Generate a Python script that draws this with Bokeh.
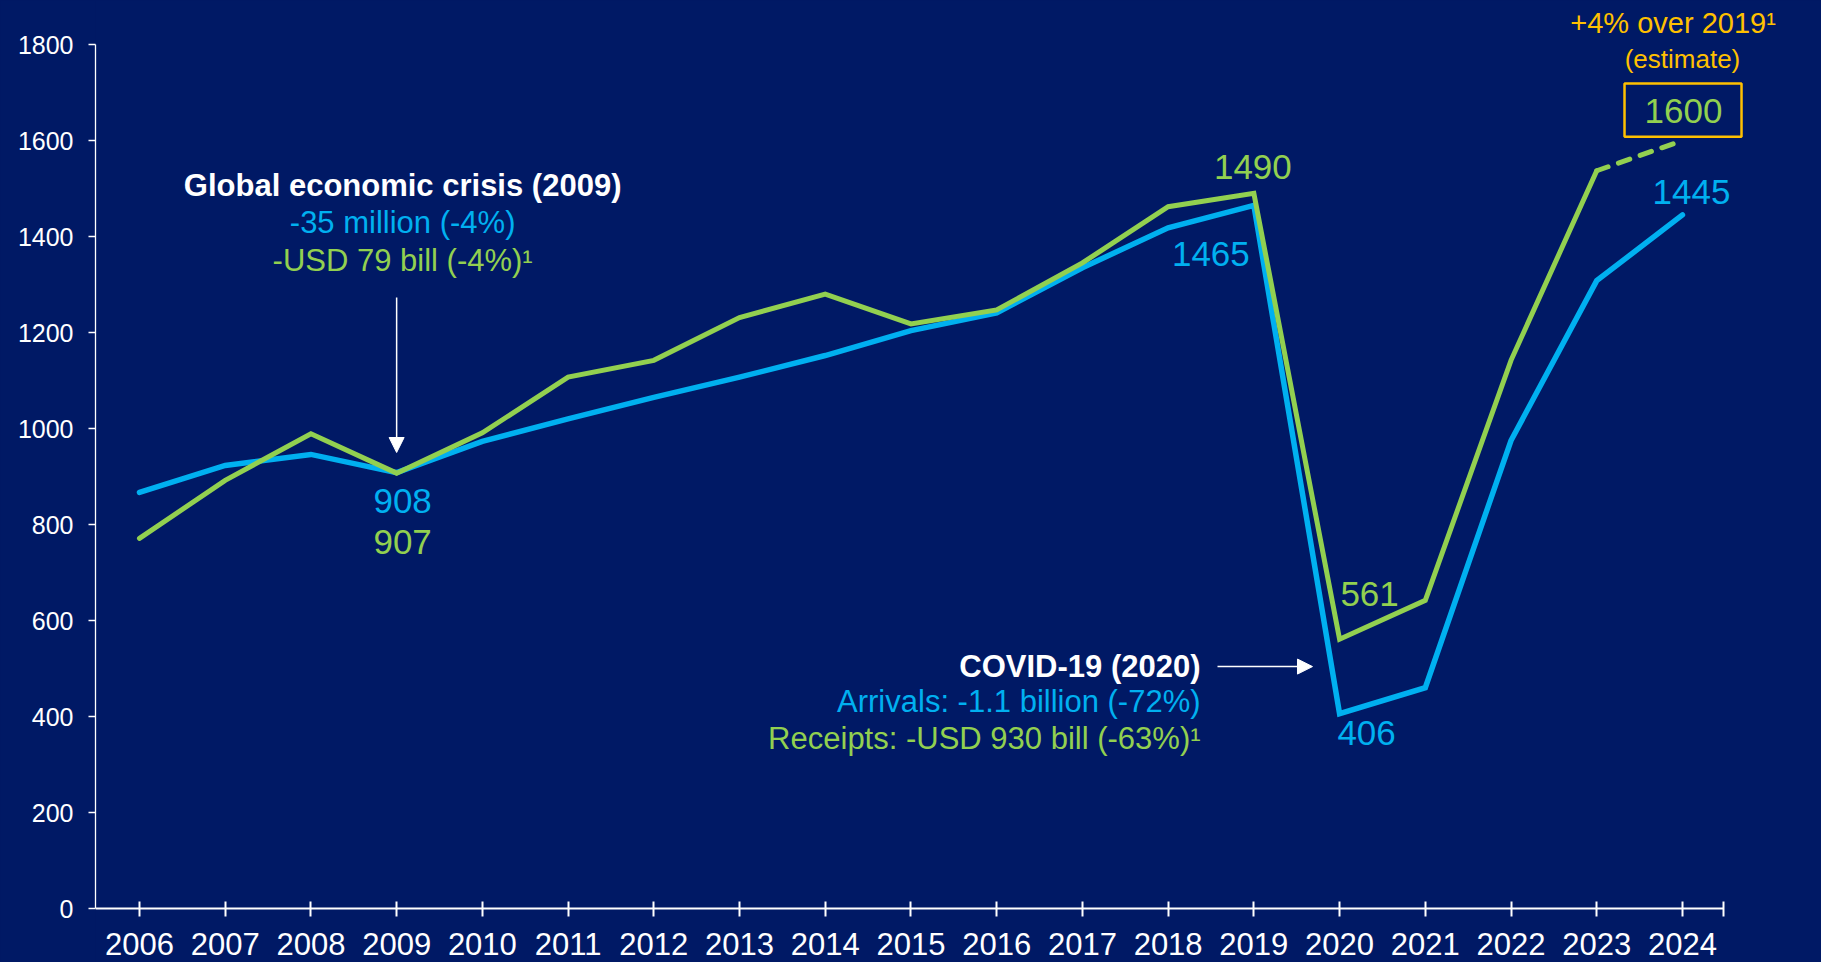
from bokeh.plotting import figure
from bokeh.models import (Range1d, FixedTicker, Label, Arrow, NormalHead,
                          BoxAnnotation, ColumnDataSource)
from bokeh.core.properties import value
from bokeh.embed import file_html
from bokeh.resources import INLINE

# ---------------- data ----------------
years = list(range(2006, 2025))
arrivals = [867, 923, 946, 908, 973, 1020, 1065, 1107, 1152, 1204, 1241,
            1335, 1418, 1465, 406, 460, 975, 1308, 1445]
receipt_years = list(range(2006, 2024))
receipts = [771, 892, 989, 907, 991, 1107, 1142, 1231, 1280, 1218, 1247,
            1345, 1462, 1490, 561, 642, 1142, 1537]
estimate_years = [2023, 2024]
receipts_estimate = [1537, 1600]
y_ticks = [0, 200, 400, 600, 800, 1000, 1200, 1400, 1600, 1800]

# label placement (pixel offsets from the data point), kept apart from data
arrival_label_offsets = {2009: (6, 28), 2019: (-43, 49), 2020: (27, 19), 2024: (9, -23)}
receipt_label_offsets = {2009: (6, 69), 2019: (-1, -26), 2020: (30, -45)}
estimate_label_offset = (1, -30)

BG = "#001965"
BLUE = "#00B0F0"
GREEN = "#92D050"
GOLD = "#FFC000"
FONT = "Liberation Sans"

p = figure(width=1821, height=962,
           x_range=Range1d(2005.487, 2025.622),
           y_range=Range1d(-112.5, 1891.67),
           output_backend="svg", toolbar_location=None,
           min_border_left=95, min_border_right=0,
           min_border_top=0, min_border_bottom=0)
p.background_fill_color = BG
p.border_fill_color = BG
p.outline_line_color = None
p.xgrid.visible = False
p.ygrid.visible = False

# x axis at y = 0
xa = p.xaxis[0]
xa.fixed_location = 0
xa.ticker = FixedTicker(ticks=years, minor_ticks=[2024.48])
xa.bounds = (2005.487, 2024.48)
xa.axis_line_color = "white"
xa.axis_line_width = 2
xa.major_tick_line_color = "white"
xa.major_tick_line_width = 2
xa.major_tick_in = 7
xa.major_tick_out = 8
xa.minor_tick_line_color = "white"
xa.minor_tick_line_width = 2
xa.minor_tick_in = 7
xa.minor_tick_out = 8
xa.major_label_text_color = "white"
xa.major_label_text_font = FONT
xa.major_label_text_font_size = "31px"
xa.major_label_standoff = 16

ya = p.yaxis[0]
ya.ticker = FixedTicker(ticks=y_ticks, minor_ticks=[])
ya.bounds = (0, 1800)
ya.axis_line_color = "white"
ya.axis_line_width = 1.3
ya.major_tick_line_color = "white"
ya.major_tick_line_width = 1.3
ya.major_tick_in = 0
ya.major_tick_out = 7
ya.minor_tick_line_color = None
ya.major_label_text_color = "white"
ya.major_label_text_font = FONT
ya.major_label_text_font_size = "25px"
ya.major_label_standoff = 15

# ---------------- lines ----------------
p.line(years, arrivals, line_color=BLUE, line_width=5.5,
       line_join="miter", line_cap="round")
p.line(receipt_years, receipts, line_color=GREEN, line_width=5,
       line_join="miter", line_cap="round")
p.line(estimate_years, receipts_estimate, line_color=GREEN, line_width=5,
       line_dash="12 11", line_cap="round")

# ---------------- value labels ----------------
def label_source(xs, ys, offsets):
    d = dict(x=[], y=[], text=[], dx=[], dy=[])
    for yr, (dx, dy) in offsets.items():
        i = xs.index(yr)
        d["x"].append(xs[i]); d["y"].append(ys[i]); d["text"].append(str(ys[i]))
        d["dx"].append(dx); d["dy"].append(dy)
    return ColumnDataSource(d)

for src, col in [(label_source(years, arrivals, arrival_label_offsets), BLUE),
                 (label_source(receipt_years, receipts, receipt_label_offsets), GREEN),
                 (label_source(estimate_years, receipts_estimate,
                               {2024: estimate_label_offset}), GREEN)]:
    p.text(x="x", y="y", text="text", x_offset="dx", y_offset="dy", source=src,
           text_color=col, text_font=value(FONT), text_font_size="35px",
           text_align="center", text_baseline="middle")

# ---------------- annotations ----------------
def lab(x, y, text, color, size, bold=False, align="center"):
    p.add_layout(Label(x=x, y=y, text=text, text_color=color,
                       text_font=FONT, text_font_size=size,
                       text_font_style="bold" if bold else "normal",
                       text_align=align, text_baseline="middle"))

lab(2009.07, 1507, "Global economic crisis (2009)", "white", "31px", bold=True)
lab(2009.07, 1430, "-35 million (-4%)", BLUE, "31px")
lab(2009.07, 1350, "-USD 79 bill (-4%)\u00b9", GREEN, "31px")
p.add_layout(Arrow(end=NormalHead(size=15, fill_color="white", line_color="white"),
                   x_start=2009, y_start=1273, x_end=2009, y_end=950,
                   line_color="white", line_width=1.5))

lab(2018.378, 504, "COVID-19 (2020)", "white", "31px", bold=True, align="right")
lab(2018.378, 431, "Arrivals: -1.1 billion (-72%)", BLUE, "31px", align="right")
lab(2018.378, 354, "Receipts: -USD 930 bill (-63%)\u00b9", GREEN, "31px", align="right")
p.add_layout(Arrow(end=NormalHead(size=15, fill_color="white", line_color="white"),
                   x_start=2018.576, y_start=504, x_end=2019.684, y_end=504,
                   line_color="white", line_width=1.5))

lab(2023.89, 1845, "+4% over 2019\u00b9", GOLD, "29px")
lab(2024.0, 1769, "(estimate)", GOLD, "26px")
p.add_layout(BoxAnnotation(left=2023.324, right=2024.689, bottom=1608, top=1719,
                           fill_alpha=0, line_color=GOLD, line_alpha=1.0,
                           line_width=2.5))

html = file_html(p, INLINE)
html = html.replace("</head>",
                    "<style>html,body{background:%s;}</style></head>" % BG, 1)
open("out.html", "w").write(html)
